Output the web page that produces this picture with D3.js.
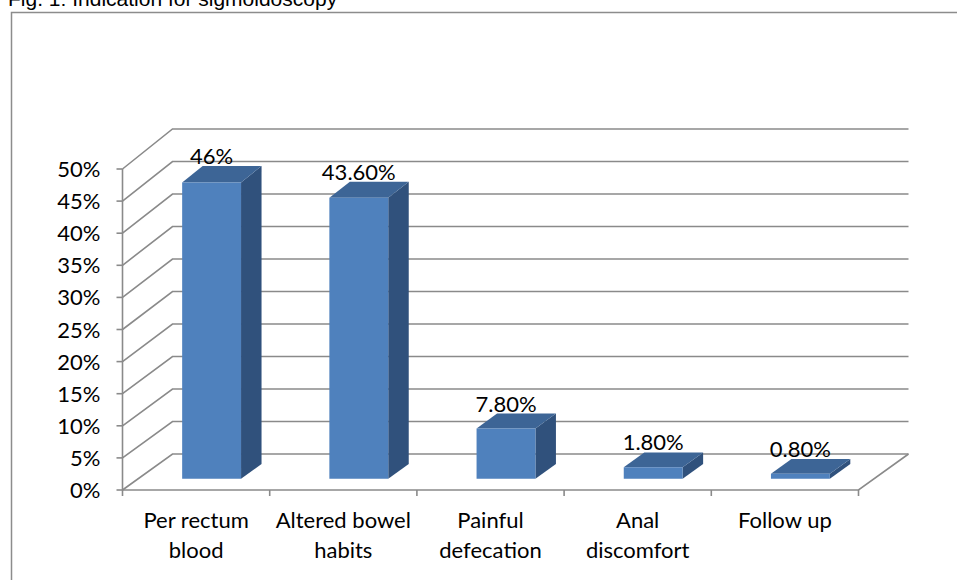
<!DOCTYPE html>
<html>
<head>
<meta charset="utf-8">
<script src="https://cdn.jsdelivr.net/npm/d3@7"></script>
<style>
  html, body { margin: 0; padding: 0; background: #fff; }
  svg { display: block; }
</style>
</head>
<body>
<svg id="chart" width="957" height="580"></svg>
<script>
// Indications for sigmoidoscopy (share of patients)
const categories = [
  ["Per rectum", "blood"],
  ["Altered bowel", "habits"],
  ["Painful", "defecation"],
  ["Anal", "discomfort"],
  ["Follow up"]
];
const values = [0.46, 0.436, 0.078, 0.018, 0.008];
const valueLabels = ["46%", "43.60%", "7.80%", "1.80%", "0.80%"];
const yTicks = [0, 0.05, 0.10, 0.15, 0.20, 0.25, 0.30, 0.35, 0.40, 0.45, 0.50];
const yTickLabels = ["0%", "5%", "10%", "15%", "20%", "25%", "30%", "35%", "40%", "45%", "50%"];
const title = "Fig. 1: Indication for sigmoidoscopy";

const svg = d3.select("#chart");
const FONT = "Lato, 'Open Sans', sans-serif";
const FS = 22;
const GRID = "#8a8a8a";

// Title (sits partly above the frame's top edge) and outer frame
svg.append("text")
  .attr("x", 8).attr("y", 6)
  .attr("font-family", "'Liberation Sans', Arial, sans-serif")
  .attr("font-size", 21)
  .attr("fill", "#000")
  .text(title);

svg.append("rect")
  .attr("x", 11.5).attr("y", 12.5)
  .attr("width", 1000).attr("height", 1000)
  .attr("fill", "none")
  .attr("stroke", "#8c8c8c")
  .attr("stroke-width", 1.5);

// 3-D plot box: front plane scales, back plane scale and depth shift
const x = d3.scaleBand()
  .domain(d3.range(categories.length))
  .range([122.5, 858.5])
  .padding(0);
const yFront = d3.scaleLinear().domain([0, 0.5]).range([490, 169]);
const yBack = d3.scaleLinear().domain([0, 0.5]).range([454, 129]);
const depthX = 50;

// project a point given front-plane x, value and depth fraction t (0 front .. 1 back)
function P(xf, v, t) {
  return [xf + t * depthX, yFront(v) * (1 - t) + yBack(v) * t];
}
const line = d3.line();

const grid = svg.append("g")
  .attr("fill", "none")
  .attr("stroke", GRID)
  .attr("stroke-width", 1.6);

const x0 = x.range()[0], x1 = x.range()[1];

// back wall gridlines and side wall diagonals
yTicks.forEach(v => {
  grid.append("path").attr("d", line([P(x0, v, 0), P(x0, v, 1), P(x1, v, 1)]));
});
// floor: front edge and right edge
grid.append("path").attr("d", line([P(x0, 0, 0), P(x1, 0, 0), P(x1, 0, 1)]));
// front vertical axis
grid.append("path").attr("d", line([P(x0, 0, 0), P(x0, 0.5, 0)]));

// value axis ticks and labels
yTicks.forEach((v, i) => {
  const yy = yFront(v);
  grid.append("path").attr("d", line([[x0 - 6, yy], [x0, yy]]));
  svg.append("text")
    .attr("x", x0 - 22).attr("y", yy + 8)
    .attr("text-anchor", "end")
    .attr("font-family", FONT)
    .attr("font-size", FS)
    .attr("fill", "#000")
    .text(yTickLabels[i]);
});

// category ticks
d3.range(categories.length + 1).forEach(i => {
  const xx = i < categories.length ? x(i) : x1;
  grid.append("path").attr("d", line([[xx, yFront(0)], [xx, yFront(0) + 6]]));
});

// category labels
categories.forEach((lines, i) => {
  const t = svg.append("text")
    .attr("text-anchor", "middle")
    .attr("font-family", FONT)
    .attr("font-size", FS)
    .attr("fill", "#000");
  lines.forEach((s, j) => {
    t.append("tspan")
      .attr("x", x(i) + x.bandwidth() / 2)
      .attr("y", 528 + j * 30)
      .text(s);
  });
});

// bars
const t0 = 0.31, t1 = 0.72;
const barW = x.bandwidth() / 2.5;
const bars = svg.append("g");
values.forEach((v, i) => {
  const cx = x(i) + x.bandwidth() / 2;
  const xl = cx - barW / 2, xr = cx + barW / 2;
  // side face
  bars.append("path")
    .attr("d", line([P(xr, 0, t0), P(xr, v, t0), P(xr, v, t1), P(xr, 0, t1)]) + "Z")
    .attr("fill", "#30517c");
  // top face
  bars.append("path")
    .attr("d", line([P(xl, v, t0), P(xr, v, t0), P(xr, v, t1), P(xl, v, t1)]) + "Z")
    .attr("fill", "#3d6596");
  // front face
  bars.append("path")
    .attr("d", line([P(xl, 0, t0), P(xr, 0, t0), P(xr, v, t0), P(xl, v, t0)]) + "Z")
    .attr("fill", "#4f81bd");

  const top = P(cx, v, t1);
  svg.append("text")
    .attr("x", P(cx, v, t0)[0])
    .attr("y", top[1] - 2)
    .attr("text-anchor", "middle")
    .attr("font-family", FONT)
    .attr("font-size", FS)
    .attr("fill", "#000")
    .text(valueLabels[i]);
});
</script>
</body>
</html>
